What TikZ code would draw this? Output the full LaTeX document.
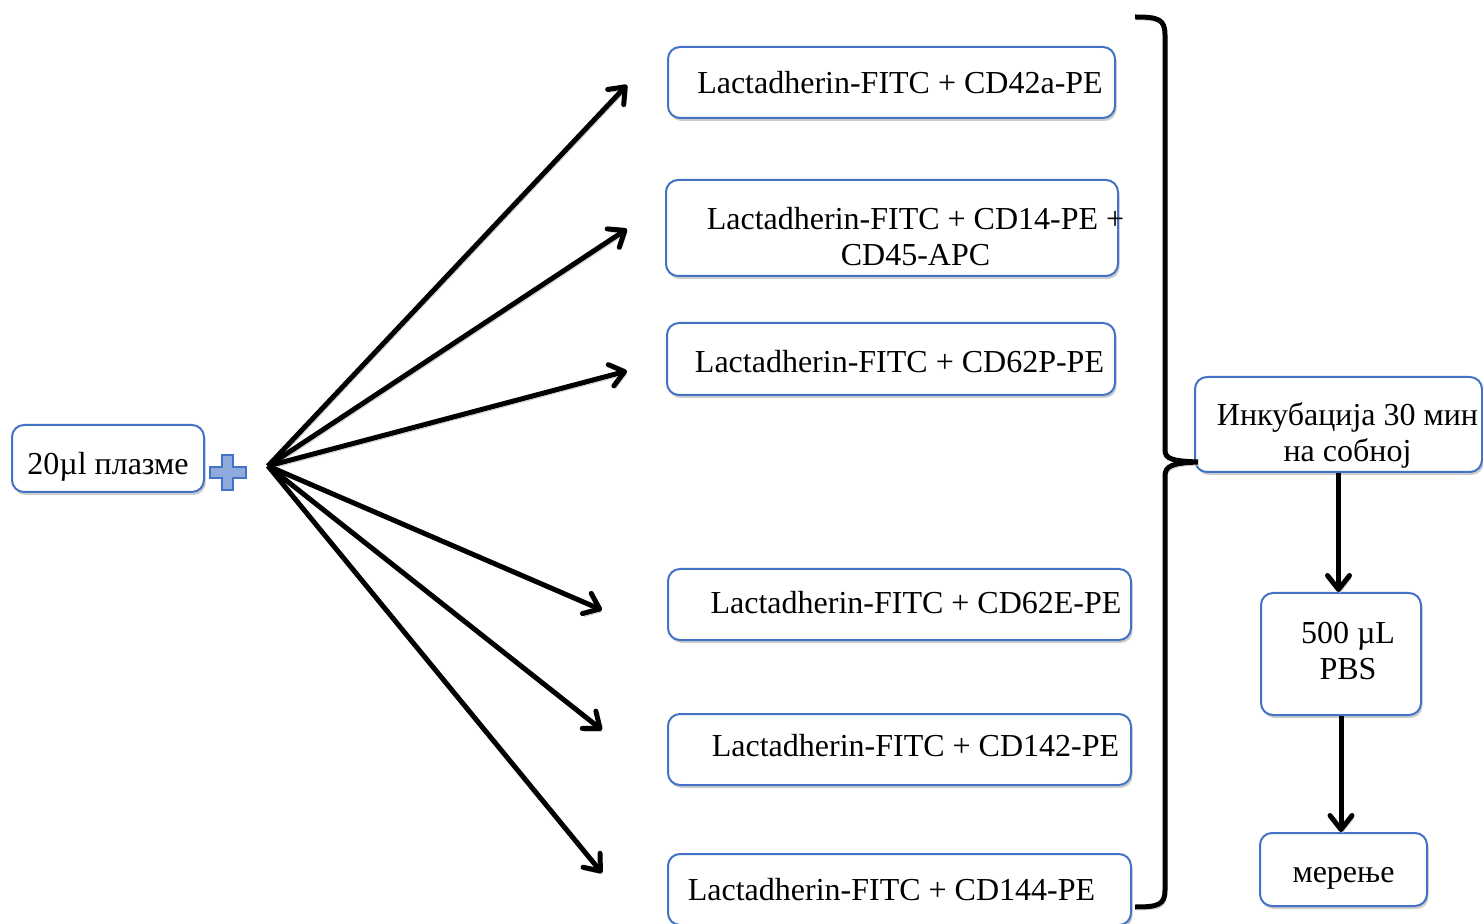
\documentclass[tikz,border=0pt]{standalone}
\usepackage{fontspec}
\setmainfont{Liberation Serif}
\usetikzlibrary{arrows.meta,shadows}
\definecolor{boxblue}{RGB}{68,114,196}
\definecolor{plusblue}{RGB}{143,170,220}
\definecolor{shadowgray}{RGB}{205,205,205}

\begin{document}
\begin{tikzpicture}[x=0.5pt, y=-0.5pt, >={Straight Barb[length=7pt,width=11pt,round]},
    font=\fontsize{16}{18}\selectfont,
    box/.style={draw=boxblue, line width=1pt, rounded corners=6pt, fill=white,
      drop shadow={shadow xshift=0.8pt, shadow yshift=-1.5pt, fill=shadowgray, opacity=1},
      inner sep=0pt},
    txt/.style={align=center, inner sep=0pt},
    shadowed/.style={preaction={draw=shadowgray, transform canvas={shift={(0.8pt,-1.5pt)}}}},
    arrow/.style={->, line width=2.5pt, shadowed}]
    \clip (0,0) rectangle (1483,924);

    % left: sample and the plus sign
    \node[box, minimum width=96pt, minimum height=33.5pt,
      label={[txt, yshift=-4pt]center:20µl плазме}] (plasma) at (108,458.5) {};
    \draw[draw=boxblue, fill=plusblue, line width=0.6pt]
      (210,467) -- (222,467) -- (222,455) -- (233,455) -- (233,467) -- (246,467)
      -- (246,478) -- (233,478) -- (233,490) -- (222,490) -- (222,478) -- (210,478) -- cycle;

    % antibody mixes
    \node[box, minimum width=223.5pt, minimum height=35.5pt,
      label={[txt, xshift=4.25pt]center:Lactadherin-FITC + CD42a-PE}] (mix1) at (891.5,82.5) {};
    \node[box, minimum width=226pt, minimum height=48pt,
      label={[txt, xshift=11.75pt, yshift=-4.5pt]center:Lactadherin-FITC + CD14-PE +\\CD45-APC}] (mix2) at (892,228) {};
    \node[box, minimum width=224pt, minimum height=36pt,
      label={[txt, xshift=4.25pt, yshift=-1.5pt]center:Lactadherin-FITC + CD62P-PE}] (mix3) at (891,359) {};
    \node[box, minimum width=231.5pt, minimum height=35.5pt,
      label={[txt, xshift=8.25pt, yshift=1pt]center:Lactadherin-FITC + CD62E-PE}] (mix4) at (899.5,604.5) {};
    \node[box, minimum width=231.5pt, minimum height=35.5pt,
      label={[txt, xshift=8pt, yshift=2pt]center:Lactadherin-FITC + CD142-PE}] (mix5) at (899.5,749.5) {};
    \node[box, minimum width=231.5pt, minimum height=35.5pt,
      label={[txt, xshift=-4pt]center:Lactadherin-FITC + CD144-PE}] (mix6) at (899.5,889.5) {};

    % fan of arrows
    \coordinate (hub) at (268,466);
    \coordinate (t1) at (627,85);
    \coordinate (t2) at (627,229);
    \coordinate (t3) at (627,371);
    \coordinate (t4) at (602,610);
    \coordinate (t5) at (602,730);
    \coordinate (t6) at (602,873);
    \foreach \i in {1,...,6}
      \draw[arrow] (hub) -- (t\i);

    % right: steps
    \node[box, minimum width=143.5pt, minimum height=47.5pt,
      label={[txt, xshift=4.5pt, yshift=-5.5pt]center:Инкубација 30 мин\\на собној}] (incub) at (1338.5,424.5) {};
    \node[box, minimum width=80pt, minimum height=61pt,
      label={[txt, xshift=3.5pt, yshift=1.5pt]center:500 µL\\PBS}] (pbs) at (1341,654) {};
    \node[box, minimum width=83.5pt, minimum height=36.5pt,
      label={[txt, yshift=-4.5pt]center:мерење}] (measure) at (1343.5,869.5) {};

    % brace
    \draw[line width=2.5pt, shadowed] (1135,17) .. controls (1158,17) and (1165,19) .. (1165,35)
      -- (1165,450) .. controls (1165,459) and (1172,461) .. (1198,462)
      .. controls (1172,463) and (1165,466) .. (1165,476)
      -- (1165,890) .. controls (1165,905) and (1158,907) .. (1135,907);

    \draw[arrow] (incub.south) -- (incub.south |- pbs.north);
    \draw[arrow] (pbs.south) -- (pbs.south |- measure.north);
  \end{tikzpicture}
\end{document}
